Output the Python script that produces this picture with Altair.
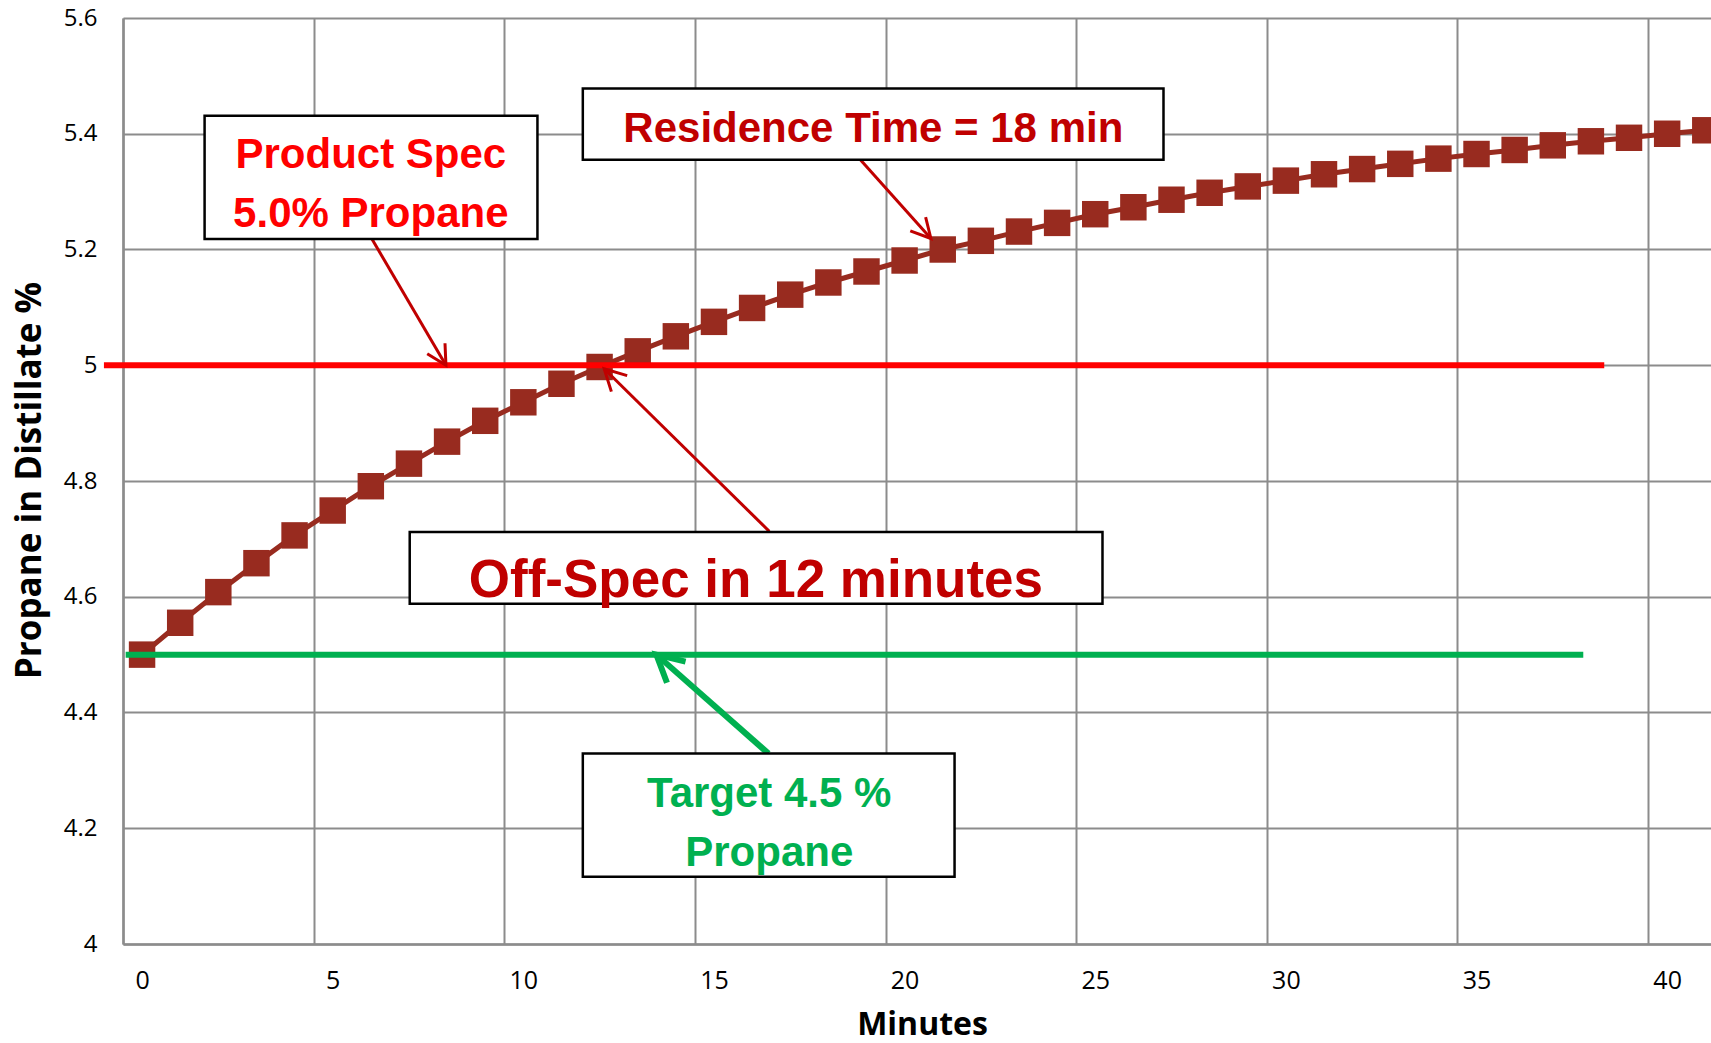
import math
import altair as alt
import pandas as pd

# ---- data -------------------------------------------------------------
minutes = list(range(42))
propane = [4.500, 4.555, 4.608, 4.658, 4.706, 4.749, 4.791, 4.830, 4.868, 4.904,
           4.936, 4.968, 4.997, 5.024, 5.050, 5.075, 5.099, 5.122, 5.143, 5.162,
           5.181, 5.200, 5.215, 5.231, 5.246, 5.261, 5.273, 5.286, 5.298, 5.309,
           5.319, 5.330, 5.339, 5.348, 5.357, 5.365, 5.372, 5.380, 5.387, 5.393,
           5.400, 5.406]

x_ticks = [0, 5, 10, 15, 20, 25, 30, 35, 40]
y_ticks = [4.0, 4.2, 4.4, 4.6, 4.8, 5.0, 5.2, 5.4, 5.6]

# horizontal reference lines: value, start, end, colour
ref_value = [5.0, 4.5]
ref_start = [-1.0, -0.43]
ref_end = [38.35, 37.8]
ref_color = ["#FF0000", "#00B050"]

# callout boxes
box_text = ["Product Spec\n5.0% Propane", "Residence Time = 18 min",
            "Off-Spec in 12 minutes", "Target 4.5 %\nPropane"]
box_x0 = [1.64, 11.56, 7.02, 11.56]
box_x1 = [10.37, 26.79, 25.19, 21.31]
box_y0 = [5.218, 5.355, 4.588, 4.116]
box_y1 = [5.431, 5.478, 4.712, 4.329]
text_x = [6.0, 19.18, 16.1, 16.45]
text_y = [5.340, 5.386, 4.599, 4.236]
text_color = ["#FF0000", "#C00000", "#C00000", "#00B050"]
text_size = [42, 42, 53, 42]

# callout arrows
arrow_x0 = [6.03, 18.84, 16.45, 16.43]
arrow_y0 = [5.218, 5.355, 4.713, 4.329]
arrow_x1 = [7.97, 20.69, 12.12, 13.49]
arrow_y1 = [5.0, 5.219, 4.994, 4.50]
arrow_color = ["#C00000", "#C00000", "#C00000", "#00B050"]
arrow_width = [3, 3, 3, 6]
head_arm = [22, 22, 24, 30]

# ---- layout -------------------------------------------------------------
W, H = 1588, 926
X_DOM = [-0.5, 41.15]
Y_DOM = [4.0, 5.6]
px_u = W / (X_DOM[1] - X_DOM[0])
px_v = H / (Y_DOM[1] - Y_DOM[0])

SPREAD = 0.53
head_path = f"M -1 -{SPREAD} L 0 0 L -1 {SPREAD}"

def head_angle(x0, y0, x1, y1):
    dx = (x1 - x0) * px_u
    dy = -(y1 - y0) * px_v
    return math.degrees(math.atan2(dy, dx)) % 360

def head_size(arm):
    side = 2 * arm / math.sqrt(1 + SPREAD ** 2)
    return side * side

series = pd.DataFrame({"x": minutes, "y": propane})
refs = pd.DataFrame({"y": ref_value, "x": ref_start, "x2": ref_end, "c": ref_color})
boxes = pd.DataFrame({"x": box_x0, "x2": box_x1, "y": box_y0, "y2": box_y1})
labels = pd.DataFrame({"x": text_x, "y": text_y, "t": box_text,
                       "c": text_color, "s": text_size})
arrows = pd.DataFrame({
    "x": arrow_x0, "y": arrow_y0, "x2": arrow_x1, "y2": arrow_y1,
    "c": arrow_color, "w": arrow_width,
    "a": [head_angle(*p) for p in zip(arrow_x0, arrow_y0, arrow_x1, arrow_y1)],
    "s": [head_size(a) for a in head_arm],
})

GRID = "#8C8C8C"
xs = alt.Scale(domain=X_DOM, nice=False, zero=False)
ys = alt.Scale(domain=Y_DOM, nice=False, zero=False)

x_axis = alt.Axis(
    values=[t - 0.5 for t in x_ticks], labelExpr="datum.value + 0.5",
    labelOffset=px_u / 2, labelPadding=44, labelBaseline="alphabetic",
    labelFont="Open Sans", labelFontSize=25, labelColor="black",
    labelOverlap=False, labelBound=False, labelFlush=False,
    ticks=False, tickSize=0, grid=True, gridColor=GRID, gridWidth=2,
    domainColor=GRID, domainWidth=2.5,
    title="Minutes", titleFont="Open Sans", titleFontSize=32,
    titleFontWeight="bold", titleColor="black", titleX=799, titleY=90,
    titleAlign="center", titleBaseline="alphabetic",
)
y_axis = alt.Axis(
    values=y_ticks, format="~g", labelPadding=26, labelFont="Open Sans",
    labelFontSize=24, labelColor="black", labelOverlap=False,
    ticks=False, tickSize=0, grid=True, gridColor=GRID, gridWidth=2,
    domainColor=GRID, domainWidth=2.5,
    title="Propane in Distillate %", titleFont="Open Sans", titleFontSize=35,
    titleFontWeight="bold", titleColor="black", titleAngle=270,
    titleX=-83, titleY=462, titleAlign="center", titleBaseline="alphabetic",
)

def X(field):
    return alt.X(field, scale=xs, axis=x_axis)

def Y(field):
    return alt.Y(field, scale=ys, axis=y_axis)

SERIES_COLOR = "#982B1F"

line = alt.Chart(series).mark_line(color=SERIES_COLOR, strokeWidth=5).encode(
    x=X("x:Q"), y=Y("y:Q"),
)
squares = alt.Chart(series).mark_square(
    color=SERIES_COLOR, size=700, opacity=1, cornerRadius=2
).encode(x=X("x:Q"), y=Y("y:Q"))
ref_lines = alt.Chart(refs).mark_rule(strokeWidth=6, clip=False).encode(
    x=X("x:Q"), x2="x2:Q", y=Y("y:Q"),
    color=alt.Color("c:N", scale=None),
)
shafts = alt.Chart(arrows).mark_rule().encode(
    x=X("x:Q"), x2="x2:Q", y=Y("y:Q"), y2="y2:Q",
    color=alt.Color("c:N", scale=None),
    strokeWidth=alt.StrokeWidth("w:Q", scale=None),
)
heads = alt.Chart(arrows).mark_point(
    shape=head_path, filled=False, opacity=1, strokeJoin="miter"
).encode(
    x=X("x2:Q"), y=Y("y2:Q"),
    angle=alt.Angle("a:Q", scale=None),
    size=alt.Size("s:Q", scale=None),
    color=alt.Color("c:N", scale=None),
    strokeWidth=alt.StrokeWidth("w:Q", scale=None),
)
rects = alt.Chart(boxes).mark_rect(fill="white", stroke="black", strokeWidth=2.5).encode(
    x=X("x:Q"), x2="x2:Q", y=Y("y:Q"), y2="y2:Q",
)
texts = alt.Chart(labels).mark_text(
    font="Liberation Sans", fontWeight="bold", align="center",
    baseline="alphabetic", lineBreak="\n", lineHeight=59,
).encode(
    x=X("x:Q"), y=Y("y:Q"),
    text="t:N",
    color=alt.Color("c:N", scale=None),
    size=alt.Size("s:Q", scale=None),
)

chart = alt.layer(line, squares, ref_lines, shafts, heads, rects, texts).properties(
    width=W, height=H,
    padding={"left": 123, "top": 18, "right": 0, "bottom": 99},
    autosize=alt.AutoSizeParams(type="none"),
    background="white",
).configure_view(stroke=None)

chart.save("out.html", embed_options={"renderer": "svg", "actions": False})
